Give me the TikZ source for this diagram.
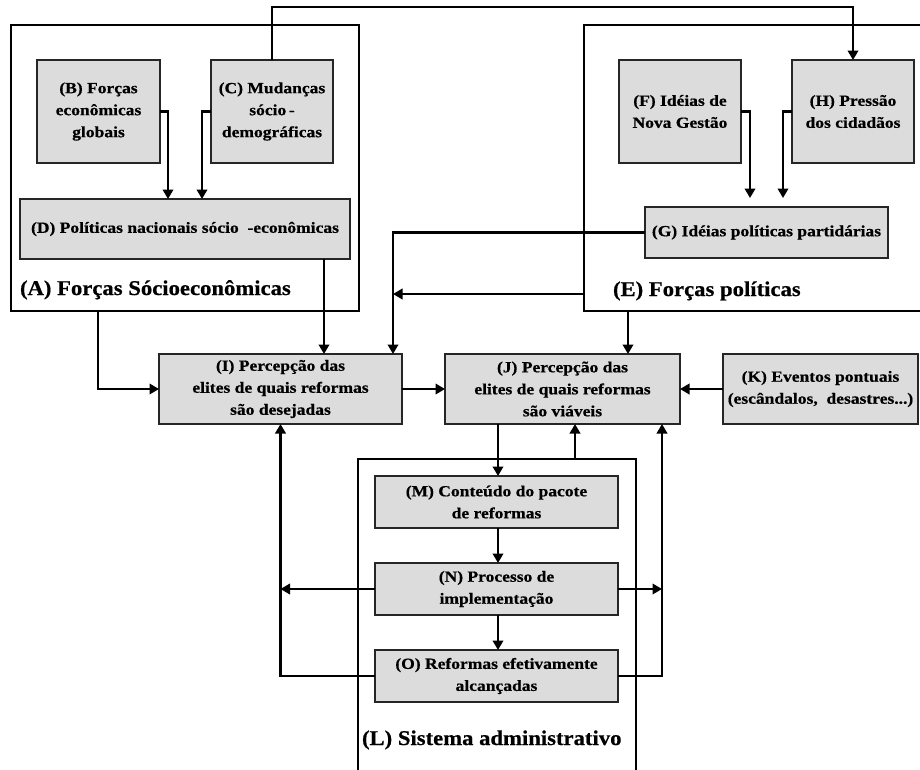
\documentclass[tikz,border=0pt]{standalone}
\usepackage{fontspec}
\newfontfamily\boxfont{Liberation Serif}[FakeStretch=1.13,FakeBold=0.6]
\newfontfamily\titlefont{Liberation Serif}[FakeStretch=1.08,FakeBold=0.6]
\usetikzlibrary{arrows.meta,calc}
\definecolor{boxgray}{HTML}{DCDCDC}
\begin{document}
\begin{tikzpicture}[x=1pt,y=-1pt,
  every node/.style={inner sep=0pt, outer sep=0pt},
  factor/.style={draw=black!85, line width=1.2pt, fill=boxgray, align=center,
    font=\boxfont\bfseries\fontsize{15.5}{22}\selectfont},
  frame/.style={draw=black, line width=1.1pt},
  title/.style={anchor=base west, font=\titlefont\bfseries\fontsize{21}{24}\selectfont},
  conn/.style={line width=2.1pt, -{Triangle[width=10.5pt,length=9.5pt]}},
]
\path[use as bounding box] (0,0) rectangle (920,769);
\clip (0,0) rectangle (920,769);

% group frames
\node[frame, minimum width=348pt, minimum height=286pt] (A) at (185,168) {};
\node[frame, minimum width=351pt, minimum height=286pt] (E) at (759.5,168) {};
\node[frame, minimum width=278pt, minimum height=331pt] (L) at (497,624.5) {};

\node[title] (At) at (20,295) {(A) Forças Sócioeconômicas};
\node[title] (Et) at (613,296) {(E) Forças políticas};
\node[title] (Lt) at (362,745) {(L) Sistema administrativo};

% factor boxes
\node[factor, minimum width=123pt, minimum height=103pt] (B) at (98.5,111.5)
  {(B) Forças\\econômicas\\globais};
\node[factor, minimum width=122pt, minimum height=103pt] (C) at (272,111.5)
  {(C) Mudanças\\sócio\,-\\demográficas};
\node[factor, minimum width=330pt, minimum height=60pt] (D) at (185,229)
  {(D) Políticas nacionais sócio\ \ -econômicas};
\node[factor, minimum width=122pt, minimum height=103pt] (F) at (680,111.5)
  {(F) Idéias de\\Nova Gestão};
\node[factor, minimum width=122pt, minimum height=103pt] (H) at (853,111.5)
  {(H) Pressão\\dos cidadãos};
\node[factor, minimum width=243pt, minimum height=51pt] (G) at (766.5,232.5)
  {(G) Idéias políticas partidárias};
\node[factor, minimum width=243pt, minimum height=70pt] (I) at (280.5,389)
  {(I) Percepção das\\elites de quais reformas\\são desejadas};
\node[factor, minimum width=235pt, minimum height=70pt] (J) at (562.5,389)
  {(J) Percepção das\\elites de quais reformas\\são viáveis};
\node[factor, minimum width=195pt, minimum height=70pt] (K) at (820.5,389)
  {(K) Eventos pontuais\\(escândalos,~ desastres...)};
\node[factor, minimum width=243pt, minimum height=52pt] (M) at (496.5,502)
  {(M) Conteúdo do pacote\\de reformas};
\node[factor, minimum width=243pt, minimum height=52pt] (N) at (496.5,589)
  {(N) Processo de\\implementação};
\node[factor, minimum width=243pt, minimum height=52pt] (O) at (496.5,676)
  {(O) Reformas efetivamente\\alcançadas};

% helper points on the connector routes
\coordinate (top) at ($(C.north)+(0,-53)$);
\coordinate (gx) at ($(I.north west)+(234,0)$);
\coordinate (ein) at ($(E.south west)+(0,-17)$);
\coordinate (jr) at ($(J.south west)+(217,0)$);

% connectors
\draw[conn] (C.north) |- (top) -| (H.north);
\draw[conn] (B.east) -| ($(D.north west)+(148,0)$);
\draw[conn] (C.west) -| ($(D.north west)+(182,0)$);
\draw[conn, shorten >=9pt] (F.east) -| ($(G.north west)+(105,0)$);
\draw[conn, shorten >=9pt] (H.west) -| ($(G.north west)+(138,0)$);
\draw[conn] (G.west) -| (gx);
\draw[conn] (ein) -- (gx |- ein);
\draw[conn] ($(D.south west)+(304,0)$) -- ($(I.north west)+(165,0)$);
\draw[conn] ($(A.south west)+(87,0)$) |- (I.west);
\draw[conn] (I.east) -- (J.west);
\draw[conn] ($(E.south west)+(44,0)$) -- ($(J.north west)+(183,0)$);
\draw[conn] (K.west) -- (J.east);
\draw[conn] ($(J.south west)+(53,0)$) -- ($(M.north west)+(123,0)$);
\draw[conn] ($(L.north west)+(217,0)$) -- ($(J.south west)+(130,0)$);
\draw[conn] ($(M.south west)+(123,0)$) -- ($(N.north west)+(123,0)$);
\draw[conn] ($(N.south west)+(123,0)$) -- ($(O.north west)+(123,0)$);
\draw[conn] (N.west) -- (I.south |- N.west);
\draw[conn] (O.west) -| (I.south);
\draw[conn] (N.east) -- (jr |- N.east);
\draw[conn] (O.east) -| (jr);
\end{tikzpicture}
\end{document}
